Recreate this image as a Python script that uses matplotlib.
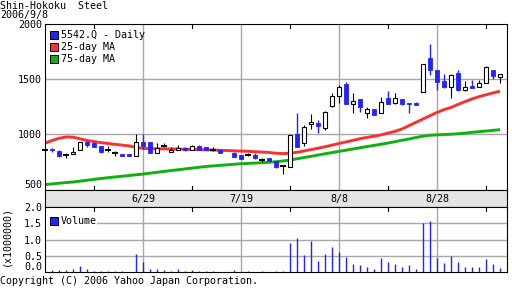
from __future__ import annotations

import matplotlib

matplotlib.use("Agg")
import matplotlib.pyplot as plt
import matplotlib.transforms as mtransforms
import numpy as np

# trading-day index 0..65 (index 26 is the 7/17 holiday, no trade)
opens = [857, 868, 848, 812, 818, 857, 927, 924, 894, 857, 827, 821, 821, 806, 933, 927,
         827, 897, 839, 857, 878, 863, 894, 885, 863, 857, np.nan, 833, 809, 815, 812, 766,
         782, 757, 715, 706, 1003, 918, 1091, 1100, 1054, 1254, 1348, 1454, 1272, 1318, 1191,
         1227, 1191, 1327, 1288, 1318, 1281, 1288, 1381, 1691, 1585, 1484, 1433, 1554, 1403,
         1439, 1427, 1463, 1585, 1524]
closes = [857, 855, 803, 812, 839, 927, 903, 882, 842, 857, 827, 806, 806, 927, 894, 827,
          875, 897, 863, 875, 863, 897, 863, 860, 863, 827, np.nan, 797, 779, 815, 788, 766,
          760, 706, 715, 991, 882, 1063, 1112, 1076, 1200, 1345, 1427, 1272, 1300, 1251, 1227,
          1172, 1291, 1278, 1327, 1278, 1272, 1263, 1636, 1585, 1472, 1427, 1539, 1403, 1427,
          1418, 1463, 1609, 1530, 1548]
highs = [870, 875, 857, 833, 882, 933, 942, 927, 897, 894, 851, 821, 821, 1003, 1003, 927,
         918, 918, 888, 900, 888, 903, 900, 888, 882, 857, np.nan, 836, 812, 827, 827, 782,
         788, 760, 720, 991, 1197, 1085, 1185, 1130, 1215, 1372, 1448, 1478, 1372, 1318, 1245,
         1227, 1336, 1397, 1372, 1318, 1281, 1297, 1636, 1821, 1585, 1548, 1548, 1585, 1484,
         1494, 1494, 1621, 1585, 1548]
lows = [845, 842, 797, 788, 818, 857, 882, 882, 833, 842, 803, 806, 806, 806, 872, 827,
        827, 888, 839, 857, 851, 863, 863, 857, 848, 827, np.nan, 797, 776, 800, 773, 751,
        757, 697, 645, 706, 882, 897, 1045, 1015, 1039, 1245, 1287, 1272, 1197, 1206, 1151,
        1172, 1191, 1278, 1278, 1269, 1197, 1263, 1381, 1539, 1403, 1418, 1333, 1397, 1397,
        1418, 1427, 1463, 1500, 1469]

ma25 = [920, 945, 965, 977, 975, 960, 945, 935, 925, 918, 910, 903, 896, 882, 873, 871,
        870, 869, 868, 867, 866, 864, 862, 860, 858, 856, 854, 851, 849, 847, 843, 840,
        836, 829, 826, 829, 838, 850, 862, 875, 888, 903, 918, 932, 946, 961, 973, 984,
        996, 1012, 1028, 1050, 1080, 1110, 1140, 1170, 1200, 1225, 1245, 1272, 1298, 1322,
        1343, 1360, 1377, 1392]
ma75 = [545, 551, 557, 563, 568, 576, 584, 592, 600, 607, 614, 620, 627, 634, 640, 648,
        656, 664, 672, 679, 687, 694, 702, 709, 714, 719, 724, 729, 734, 737, 740, 743,
        747, 752, 759, 767, 779, 790, 801, 813, 824, 835, 846, 857, 868, 879, 890, 900,
        911, 922, 934, 947, 959, 972, 984, 992, 996, 999, 1002, 1006, 1012, 1019, 1025,
        1031, 1037, 1043]

# volume, in units of 1,000,000 shares
volume = [0.03, 0.05, 0.05, 0.05, 0.08, 0.17, 0.08, 0.02, 0.02, 0.02, 0.02, 0.02, 0.0,
          0.55, 0.31, 0.08, 0.08, 0.05, 0.02, 0.08, 0.02, 0.05, 0.02, 0.02, 0.02, 0.0, 0.0,
          0.05, 0.0, 0.02, 0.0, 0.02, 0.0, 0.02, 0.02, 0.90, 1.04, 0.52, 0.95, 0.33, 0.55,
          0.77, 0.61, 0.46, 0.24, 0.21, 0.15, 0.08, 0.43, 0.30, 0.24, 0.15, 0.21, 0.08, 1.51,
          1.57, 0.43, 0.27, 0.49, 0.30, 0.15, 0.15, 0.15, 0.39, 0.24, 0.11]

date_ticks = [14, 28, 42, 56]
date_labels = ["6/29", "7/19", "8/8", "8/28"]
minor_ticks = [7, 21, 35, 49, 63]
price_ticks = [500, 1000, 1500, 2000]
volume_ticks = [0.0, 0.5, 1.0, 1.5, 2.0]

BLUE = "#2323ff"
RED = "#ff3030"
GREEN = "#10b010"
GRID = "#a8a8a8"
FONT = "DejaVu Sans Mono"
FS = 7.2
W, H = 512, 288


def frac(x0, y0, x1, y1):
    return [x0 / W, 1 - y1 / H, (x1 - x0) / W, (y1 - y0) / H]


def style_axes(ax):
    for sp in ax.spines.values():
        sp.set_linewidth(0.8)
        sp.set_color("black")
    ax.tick_params(length=0)


def draw_candles(ax, idx):
    for i in idx:
        o, c, hi, lo = opens[i], closes[i], highs[i], lows[i]
        if np.isnan(o):
            continue
        if c > o:
            ax.vlines(i, lo, hi, color="black", lw=0.8, zorder=3, clip_on=False)
            ax.bar(i, c - o, bottom=o, width=0.62, facecolor="white",
                   edgecolor="black", lw=0.8, zorder=4, clip_on=False)
        elif c < o:
            ax.vlines(i, lo, hi, color=BLUE, lw=1.0, zorder=3, clip_on=False)
            ax.bar(i, o - c, bottom=c, width=0.62, facecolor=BLUE,
                   edgecolor=BLUE, lw=0.6, zorder=4, clip_on=False)
        else:
            ax.vlines(i, lo, hi, color="black", lw=0.8, zorder=3, clip_on=False)
            ax.hlines(o, i - 0.42, i + 0.42, color="black", lw=1.4, zorder=4,
                      clip_on=False)


def legend_entry(ax, y_px_axes, color, label):
    ax.plot([0.0195], [y_px_axes], marker="s", ms=5.2, mfc=color, mec="black",
            mew=0.7, transform=ax.transAxes, clip_on=False, zorder=6)
    ax.text(0.034, y_px_axes, label, transform=ax.transAxes, ha="left",
            va="center", family=FONT, fontsize=FS, zorder=6)


def main():
    fig = plt.figure(figsize=(W / 100, H / 100), dpi=100)
    idx = np.arange(len(opens))

    # price panel
    ax = fig.add_axes(frac(45, 24.3, 507, 189.5))
    style_axes(ax)
    ax.set_xlim(0, 66)
    ax.set_ylim(500, 2000)
    for t in date_ticks:
        ax.axvline(t, color=GRID, lw=1.0, zorder=1)
    for p in [1000, 1500]:
        ax.axhline(p, color=GRID, lw=1.0, zorder=1)
    ax.plot(idx, ma75, color=GREEN, lw=2.1, zorder=2, solid_capstyle="butt")
    ax.plot(idx, ma25, color=RED, lw=2.1, zorder=2, solid_capstyle="butt")
    draw_candles(ax, idx)
    ax.set_xticks([])
    ax.set_yticks(price_ticks)
    ax.set_yticklabels([str(p) for p in price_ticks], family=FONT, fontsize=FS)
    ax.tick_params(axis="y", pad=2.2)
    ax.get_yticklabels()[0].set_va("bottom")
    for t in minor_ticks:
        ax.plot([t, t], [0, 0.02], color="black", lw=0.8,
                transform=mtransforms.blended_transform_factory(ax.transData, ax.transAxes))
        ax.plot([t, t], [0.98, 1.0], color="black", lw=0.8,
                transform=mtransforms.blended_transform_factory(ax.transData, ax.transAxes))
    hgt = 165.2
    legend_entry(ax, 1 - (35 - 24.3) / hgt, BLUE, "5542.Q - Daily")
    legend_entry(ax, 1 - (47.3 - 24.3) / hgt, RED, "25-day MA")
    legend_entry(ax, 1 - (59.3 - 24.3) / hgt, GREEN, "75-day MA")

    # date band
    band = fig.add_axes(frac(45, 189.5, 507, 207.3))
    style_axes(band)
    band.set_facecolor("#e4e4e4")
    band.set_xlim(0, 66)
    band.set_ylim(0, 1)
    band.set_xticks([])
    band.set_yticks([])
    for t, lab in zip(date_ticks, date_labels):
        band.text(t, 0.47, lab, ha="center", va="center", family=FONT, fontsize=FS)

    # volume panel
    vax = fig.add_axes(frac(45, 207.3, 507, 271.8))
    style_axes(vax)
    vax.set_xlim(0, 66)
    vax.set_ylim(0, 2.0)
    for t in date_ticks:
        vax.axvline(t, color=GRID, lw=1.0, zorder=1)
    for v in [0.5, 1.0, 1.5]:
        vax.axhline(v, color=GRID, lw=1.0, zorder=1)
    vax.vlines(idx, 0, volume, color=BLUE, lw=1.0, zorder=3)
    vax.set_xticks([])
    vax.set_yticks(volume_ticks)
    vax.set_yticklabels([f"{v:.1f}" for v in volume_ticks], family=FONT, fontsize=FS)
    vax.tick_params(axis="y", pad=2.2)
    vax.get_yticklabels()[0].set_va("bottom")
    for t in minor_ticks:
        vax.plot([t, t], [0.94, 1.0], color="black", lw=0.8,
                 transform=mtransforms.blended_transform_factory(vax.transData, vax.transAxes))
    vh = 64.5
    vy = 1 - (220.7 - 207.3) / vh
    vax.text(0.0, vy, "", transform=vax.transAxes)
    vax.add_patch(plt.Rectangle((0.002, vy - 0.09), 0.11, 0.18, transform=vax.transAxes,
                                facecolor="white", edgecolor="none", zorder=5))
    legend_entry(vax, vy, BLUE, "Volume")
    fig.text(6 / W, 1 - 236 / H, "(x1000000)", rotation=90, ha="center", va="center",
             family=FONT, fontsize=FS)

    # header / footer
    fig.text(0.0, 1 - 1 / H, "Shin-Hokoku  Steel", ha="left", va="top", family=FONT,
             fontsize=FS)
    fig.text(0.0, 1 - 10 / H, "2006/9/8", ha="left", va="top", family=FONT, fontsize=FS)
    fig.text(0.0, 1 - 276 / H, "Copyright (C) 2006 Yahoo Japan Corporation.", ha="left",
             va="top", family=FONT, fontsize=FS)

    fig.savefig("out.png", dpi=100)
    plt.close(fig)


if __name__ == "__main__":
    main()
